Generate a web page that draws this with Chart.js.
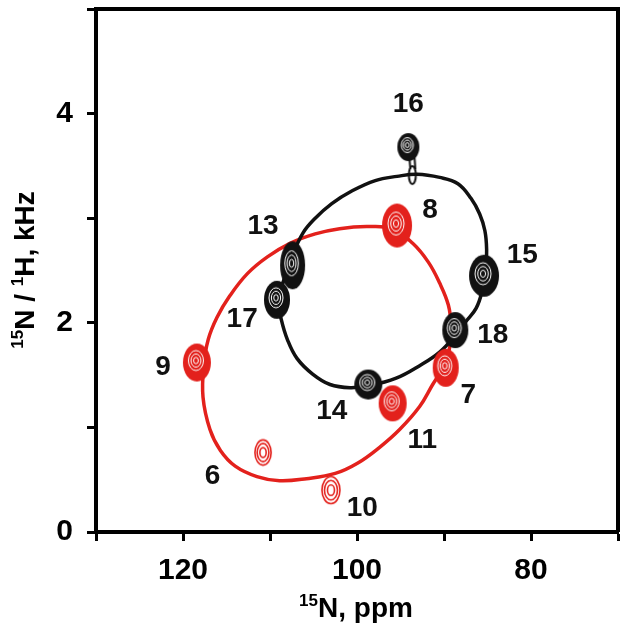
<!DOCTYPE html>
<html>
<head>
<meta charset="utf-8">
<script src="https://cdn.jsdelivr.net/npm/chart.js@4.4.0/dist/chart.umd.min.js"></script>
<style>
  html, body { margin: 0; padding: 0; background: #fff; }
  #wrap { width: 629px; height: 643px; position: relative; }
</style>
</head>
<body>
<div id="wrap"><canvas id="grafico"></canvas></div>
<script>
// picos (ppm, kHz)
const pretoNomes = ["16", "13", "17", "15", "18", "14"];
const pretoX = [94.1, 107.4, 109.2, 85.4, 88.7, 98.7];
const pretoY = [3.68, 2.55, 2.22, 2.45, 1.93, 1.41];

const vermelhoNomes = ["8", "9", "7", "11", "6", "10"];
const vermelhoX = [95.4, 118.4, 89.8, 95.9, 110.8, 103.0];
const vermelhoY = [2.93, 1.62, 1.57, 1.23, 0.76, 0.40];

// roda PISEMA (contorno lido ponto a ponto, curva fechada)
const rodaPretaX = [106.2, 104.8, 102.9, 100.6, 97.9, 95.4, 93.1, 90.5, 88.4, 86.9, 85.9, 85.3, 85.1, 85.2, 85.6, 86.3, 87.5, 88.7, 90.5, 92.8, 95.5, 98.5, 100.8, 103.1, 105.1, 106.9, 108.0, 108.7, 109.1, 108.4, 107.5];
const rodaPretaY = [2.86, 3.00, 3.14, 3.26, 3.36, 3.40, 3.42, 3.39, 3.33, 3.19, 3.04, 2.88, 2.70, 2.50, 2.31, 2.14, 2.01, 1.88, 1.72, 1.59, 1.47, 1.40, 1.38, 1.41, 1.51, 1.66, 1.84, 2.03, 2.22, 2.41, 2.63];

const rodaVermelhaX = [116.9, 117.7, 117.6, 117.1, 116.1, 114.6, 112.6, 110.3, 107.7, 104.8, 102.0, 98.9, 96.0, 93.6, 91.8, 90.5, 89.5, 89.2, 89.3, 89.9, 91.3, 92.8, 95.1, 97.4, 99.9, 102.5, 105.8, 108.9, 111.5, 114.0, 115.7];
const rodaVermelhaY = [0.98, 1.29, 1.60, 1.84, 2.05, 2.26, 2.47, 2.63, 2.76, 2.85, 2.90, 2.92, 2.90, 2.76, 2.58, 2.38, 2.17, 1.98, 1.79, 1.60, 1.41, 1.20, 0.98, 0.81, 0.66, 0.56, 0.51, 0.49, 0.53, 0.63, 0.78];

// rotulos dos picos
const rotulos = ["16", "8", "13", "15", "17", "18", "9", "14", "7", "11", "6", "10"];
const rotuloX = [94.1, 91.6, 110.8, 81.0, 113.2, 84.4, 122.3, 102.9, 87.2, 92.5, 116.6, 99.4];
const rotuloY = [4.09, 3.08, 2.92, 2.65, 2.03, 1.88, 1.57, 1.15, 1.31, 0.88, 0.53, 0.23];

const PRETO = "#111111";
const VERMELHO = "#e3211c";

// tamanho (px) de cada pico e cauda, so estilo
const pretoTam = [[24, 30, 30], [27, 50, 0], [28, 40, 0], [32, 44, 0], [28, 38, 0], [30, 32, 0]];
const vermelhoTam = [[32, 46, 0], [30, 40, 0], [28, 40, 0], [30, 38, 0], [20, 30, 0], [22, 32, 0]];
const vermelhoCheio = [true, true, true, true, false, false];

function desenhaPico(cor, w, h, cauda, cheio) {
  const c = document.createElement("canvas");
  const hh = cauda ? 2 * (cauda + 14) : h;
  c.width = w; c.height = hh;
  const g = c.getContext("2d");
  const cx = w / 2, cy = hh / 2;
  if (cauda) {
    // cauda fina abaixo do pico
    g.strokeStyle = cor;
    g.lineWidth = 2;
    g.beginPath();
    g.ellipse(cx + 4, cy + cauda - 2, 3.5, 9, 0, 0, Math.PI * 2);
    g.stroke();
    g.beginPath();
    g.moveTo(cx + 1, cy + 10);
    g.lineTo(cx + 2, cy + cauda - 8);
    g.moveTo(cx + 6, cy + 8);
    g.lineTo(cx + 7, cy + cauda - 8);
    g.stroke();
  }
  if (cheio) {
    g.fillStyle = cor;
    g.beginPath();
    g.ellipse(cx, cy, w / 2 - 1, h / 2 - 1, 0, 0, Math.PI * 2);
    g.fill();
    g.strokeStyle = "#fff";
    g.lineWidth = 1;
    [0.5, 0.33, 0.16].forEach(f => {
      g.beginPath();
      g.ellipse(cx - 1, cy - 2, (w / 2) * f, (h / 2) * f, 0, 0, Math.PI * 2);
      g.stroke();
    });
  } else {
    g.strokeStyle = cor;
    g.lineWidth = 1.6;
    [0.9, 0.65, 0.35].forEach(f => {
      g.beginPath();
      g.ellipse(cx, cy, (w / 2 - 1) * f, (h / 2 - 1) * f, 0, 0, Math.PI * 2);
      g.stroke();
    });
  }
  return c;
}

const pretoEstilos = pretoTam.map(t => desenhaPico(PRETO, t[0], t[1], t[2], true));
const vermelhoEstilos = vermelhoTam.map((t, i) => desenhaPico(VERMELHO, t[0], t[1], t[2], vermelhoCheio[i]));

const pts = (xs, ys) => xs.map((x, i) => ({ x: x, y: ys[i] }));

// fecha as rodas como curva continua (igual ao radar)
const fechaRoda = {
  id: "fechaRoda",
  beforeDatasetsDraw(chart) {
    chart.data.datasets.forEach((ds, i) => {
      if (!ds.fechada) return;
      const line = chart.getDatasetMeta(i).dataset;
      if (!line) return;
      line._loop = true;
      line._fullLoop = true;
      line._pointsUpdated = false;
      delete line._segments;
      delete line._path;
      line.updateControlPoints(chart.chartArea, "x");
    });
  }
};

const moldura = {
  id: "moldura",
  afterDraw(chart) {
    const ctx = chart.ctx, a = chart.chartArea;
    ctx.save();
    ctx.strokeStyle = "#000";
    ctx.lineWidth = 4;
    ctx.beginPath();
    ctx.moveTo(a.left, a.top);
    ctx.lineTo(a.right, a.top);
    ctx.lineTo(a.right, a.bottom);
    ctx.stroke();

    // rotulos dos picos
    const sx = chart.scales.x, sy = chart.scales.y;
    ctx.fillStyle = PRETO;
    ctx.font = "bold 28px 'Liberation Sans', Arial, sans-serif";
    ctx.textAlign = "center";
    ctx.textBaseline = "middle";
    rotulos.forEach((r, i) => {
      ctx.fillText(r, sx.getPixelForValue(rotuloX[i]), sy.getPixelForValue(rotuloY[i]));
    });

    // titulos dos eixos com sobrescrito
    function rico(partes, x, y) {
      let total = 0;
      partes.forEach(p => {
        ctx.font = p.sup ? "bold 17px 'Liberation Sans', Arial, sans-serif" : "bold 28px 'Liberation Sans', Arial, sans-serif";
        p.w = ctx.measureText(p.t).width;
        total += p.w;
      });
      let cx = x - total / 2;
      ctx.textAlign = "left";
      ctx.textBaseline = "alphabetic";
      partes.forEach(p => {
        ctx.font = p.sup ? "bold 17px 'Liberation Sans', Arial, sans-serif" : "bold 28px 'Liberation Sans', Arial, sans-serif";
        ctx.fillText(p.t, cx, p.sup ? y - 11 : y);
        cx += p.w;
      });
    }
    ctx.fillStyle = "#000";
    rico([{ t: "15", sup: true }, { t: "N, ppm" }], 356, 617);
    ctx.save();
    ctx.translate(34, 270);
    ctx.rotate(-Math.PI / 2);
    rico([{ t: "15", sup: true }, { t: "N / " }, { t: "1", sup: true }, { t: "H, kHz" }], 0, 0);
    ctx.restore();
    ctx.restore();
  }
};

const fonteTick = { family: "'Liberation Sans', Arial, sans-serif", size: 30, weight: "bold" };

new Chart(document.getElementById("grafico"), {
  type: "scatter",
  data: {
    datasets: [
      {
        label: "roda vermelha",
        data: pts(rodaVermelhaX, rodaVermelhaY),
        fechada: true,
        showLine: true,
        spanGaps: true,
        borderColor: VERMELHO,
        borderWidth: 3.5,
        pointRadius: 0,
        tension: 0.4,
        fill: false,
        order: 4
      },
      {
        label: "roda preta",
        data: pts(rodaPretaX, rodaPretaY),
        fechada: true,
        showLine: true,
        spanGaps: true,
        borderColor: PRETO,
        borderWidth: 3.5,
        pointRadius: 0,
        tension: 0.4,
        fill: false,
        order: 3
      },
      {
        label: "picos vermelhos",
        data: pts(vermelhoX, vermelhoY),
        pointStyle: vermelhoEstilos,
        order: 2
      },
      {
        label: "picos pretos",
        data: pts(pretoX, pretoY),
        pointStyle: pretoEstilos,
        order: 1
      }
    ]
  },
  options: {
    responsive: true,
    maintainAspectRatio: false,
    animation: false,
    events: [],
    layout: { padding: { top: 9, right: 11, left: 0, bottom: 0 } },
    plugins: { legend: { display: false }, tooltip: { enabled: false } },
    scales: {
      x: {
        type: "linear",
        reverse: true,
        min: 70,
        max: 130,
        afterFit: s => { s.height = 111; s.paddingLeft = 0; s.paddingRight = 0; },
        border: { display: true, width: 4, color: "#000" },
        grid: { drawOnChartArea: false, drawTicks: true, tickLength: 9, tickWidth: 3, color: "#000" },
        ticks: {
          stepSize: 10,
          color: "#000",
          font: fonteTick,
          padding: 12,
          maxRotation: 0,
          autoSkip: false,
          callback: v => (v % 20 === 0 ? String(v) : "")
        }
      },
      y: {
        min: 0,
        max: 5,
        afterFit: s => { s.width = 96; s.paddingTop = 0; s.paddingBottom = 0; },
        border: { display: true, width: 4, color: "#000" },
        grid: { drawOnChartArea: false, drawTicks: true, tickLength: 9, tickWidth: 3, color: "#000" },
        ticks: {
          stepSize: 1,
          color: "#000",
          font: fonteTick,
          padding: 14,
          autoSkip: false,
          callback: v => (v % 2 === 0 ? String(v) : "")
        }
      }
    }
  },
  plugins: [fechaRoda, moldura]
});
</script>
</body>
</html>
